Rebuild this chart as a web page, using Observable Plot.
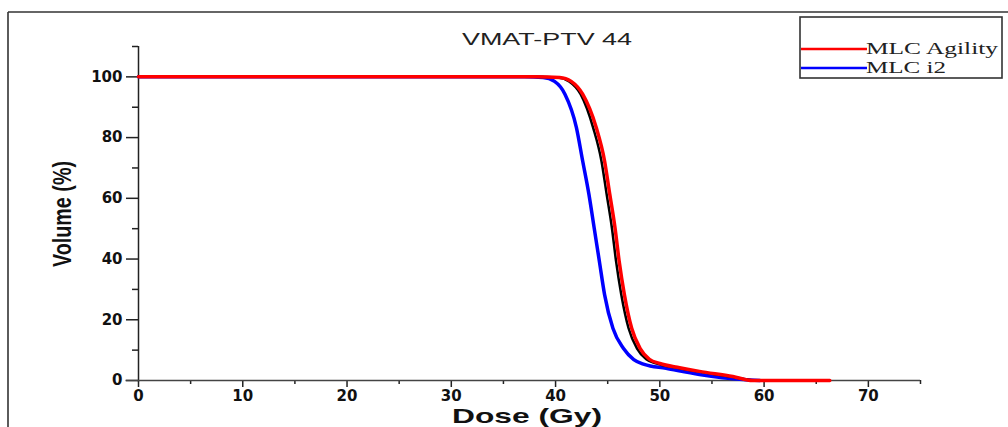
<!DOCTYPE html>
<html>
<head>
<meta charset="utf-8">
<script src="https://cdn.jsdelivr.net/npm/d3@7"></script>
<script src="https://cdn.jsdelivr.net/npm/@observablehq/plot@0.6"></script>
<style>
  html, body { margin: 0; padding: 0; background: #fff; }
  #wrap { position: relative; width: 1008px; height: 427px; overflow: hidden; }
  #wrap svg { position: absolute; left: 0; top: 0; }
</style>
</head>
<body>
<div id="wrap"></div>
<script>
// ---- data (Dose in Gy, Volume in %) ----
const title = "VMAT-PTV 44";
const xLabel = "Dose (Gy)";
const yLabel = "Volume (%)";
const seriesNames = ["MLC Agility", "MLC i2"];

const agilityDose = [0, 38, 40.4, 41.5, 42.6, 43.9, 44.7, 45.2, 45.7, 46.1, 46.6, 47.3, 48.1, 49.0, 50.0, 51.9, 53.8, 57.0, 58.9, 66.3];
const agilityVol  = [100, 100, 99.8, 98.5, 94.3, 83.3, 72.3, 61.3, 50.3, 39.3, 28.3, 17.2, 10.6, 7.0, 5.6, 4.2, 3.0, 1.3, 0, 0];

const i2Dose = [0, 37, 38.8, 39.9, 40.9, 42.0, 42.6, 43.2, 43.7, 44.2, 44.7, 45.5, 46.5, 47.5, 48.5, 50.6, 53.8, 58.0, 59.6];
const i2Vol  = [100, 100, 99.8, 98.5, 94.3, 83.3, 72.3, 61.3, 50.3, 39.3, 28.3, 17.2, 10.6, 6.9, 5.3, 4.0, 2.0, 0.3, 0];

// unlabelled black curve lying just under the red one
const refDose = [0, 38, 40.2, 41.3, 42.4, 43.6, 44.4, 44.9, 45.4, 45.8, 46.3, 47.0, 47.8, 48.7, 49.7, 51.7, 53.6, 56.8, 58.8, 59.5];
const refVol  = [100, 100, 99.8, 98.5, 94.3, 83.3, 72.3, 61.3, 50.3, 39.3, 28.3, 17.2, 10.6, 7.0, 5.6, 4.2, 3.0, 1.3, 0.1, 0];

const xMajor = [0, 10, 20, 30, 40, 50, 60, 70];
const xMinor = [5, 15, 25, 35, 45, 55, 65, 75];
const yMajor = [0, 20, 40, 60, 80, 100];
const yMinor = [10, 30, 50, 70, 90, 110];

const toRows = (xs, ys) => xs.map((d, i) => ({dose: d, vol: ys[i]}));
const agility = toRows(agilityDose, agilityVol);
const i2 = toRows(i2Dose, i2Vol);
const ref = toRows(refDose, refVol);

const tickFont = {fontFamily: "DejaVu Sans", fontWeight: "bold", fontSize: 15, letterSpacing: "3.5px", fill: "#111"};

const chart = Plot.plot({
  width: 1008,
  height: 427,
  marginTop: 46,
  marginBottom: 47,
  marginLeft: 138,
  marginRight: 88,
  style: {background: "transparent", overflow: "visible"},
  x: {domain: [0, 75]},
  y: {domain: [0, 110]},
  marks: [
    Plot.axisY({ticks: yMajor, tickSize: 12, tickPadding: 4, label: null, ...tickFont, stroke: "#222", strokeWidth: 1.5}),
    Plot.axisY({ticks: yMinor, tickSize: 6, text: null, label: null, stroke: "#222", strokeWidth: 1.5}),
    Plot.axisX({ticks: xMajor, tickSize: 7, tickPadding: 3, label: null, ...tickFont, stroke: "#222", strokeWidth: 1.5}),
    Plot.axisX({ticks: xMinor, tickSize: 4, text: null, label: null, stroke: "#222", strokeWidth: 1.5}),
    Plot.ruleX([0], {y1: -0.5, y2: 110, stroke: "#222", strokeWidth: 1.5}),
    Plot.ruleY([0], {x1: -1.2, x2: 75, stroke: "#444", strokeWidth: 1.3}),
    Plot.line(i2, {x: "dose", y: "vol", stroke: "#0000ff", strokeWidth: 3.5, curve: "monotone-x"}),
    Plot.line(ref, {x: "dose", y: "vol", stroke: "#000", strokeWidth: 2.5, curve: "monotone-x"}),
    Plot.line(agility, {x: "dose", y: "vol", stroke: "#ff0000", strokeWidth: 3.5, curve: "monotone-x"})
  ]
});

const wrap = document.getElementById("wrap");
wrap.appendChild(chart);

// overlay: frame, title, axis titles, legend
const ov = d3.select(wrap).append("svg")
  .attr("width", 1008).attr("height", 427)
  .style("pointer-events", "none");

ov.append("line").attr("x1", 8).attr("x2", 1008).attr("y1", 12).attr("y2", 12)
  .attr("stroke", "#333").attr("stroke-width", 1.6);
ov.append("line").attr("x1", 8).attr("x2", 8).attr("y1", 12).attr("y2", 427)
  .attr("stroke", "#333").attr("stroke-width", 1.6);

ov.append("text").text(title)
  .attr("x", 462).attr("y", 45)
  .attr("textLength", 170).attr("lengthAdjust", "spacingAndGlyphs")
  .attr("font-family", "Liberation Sans, Arial, sans-serif").attr("font-size", 16)
  .attr("fill", "#222");

ov.append("text").text(xLabel)
  .attr("x", 452).attr("y", 423)
  .attr("textLength", 150).attr("lengthAdjust", "spacingAndGlyphs")
  .attr("font-family", "Liberation Sans, Arial, sans-serif").attr("font-weight", "bold").attr("font-size", 21)
  .attr("fill", "#111");

ov.append("text").text(yLabel)
  .attr("transform", "translate(71,267) rotate(-90)")
  .attr("textLength", 106).attr("lengthAdjust", "spacingAndGlyphs")
  .attr("font-family", "Liberation Sans, Arial, sans-serif").attr("font-weight", "bold").attr("font-size", 25)
  .attr("fill", "#111");

// legend
ov.append("rect").attr("x", 800).attr("y", 17).attr("width", 202).attr("height", 61)
  .attr("fill", "#fff").attr("stroke", "#333").attr("stroke-width", 1.6);
const legColors = ["#ff0000", "#0000ff"];
const legY = [49, 68];
const legLen = [132, 80];
seriesNames.forEach((name, i) => {
  ov.append("line").attr("x1", 801).attr("x2", 867).attr("y1", legY[i]).attr("y2", legY[i])
    .attr("stroke", legColors[i]).attr("stroke-width", 2.5);
  ov.append("text").text(name)
    .attr("x", 866).attr("y", legY[i] + 5)
    .attr("textLength", legLen[i]).attr("lengthAdjust", "spacingAndGlyphs")
    .attr("font-family", "Liberation Serif, Times New Roman, serif").attr("font-size", 17)
    .attr("fill", "#222");
});
</script>
</body>
</html>
